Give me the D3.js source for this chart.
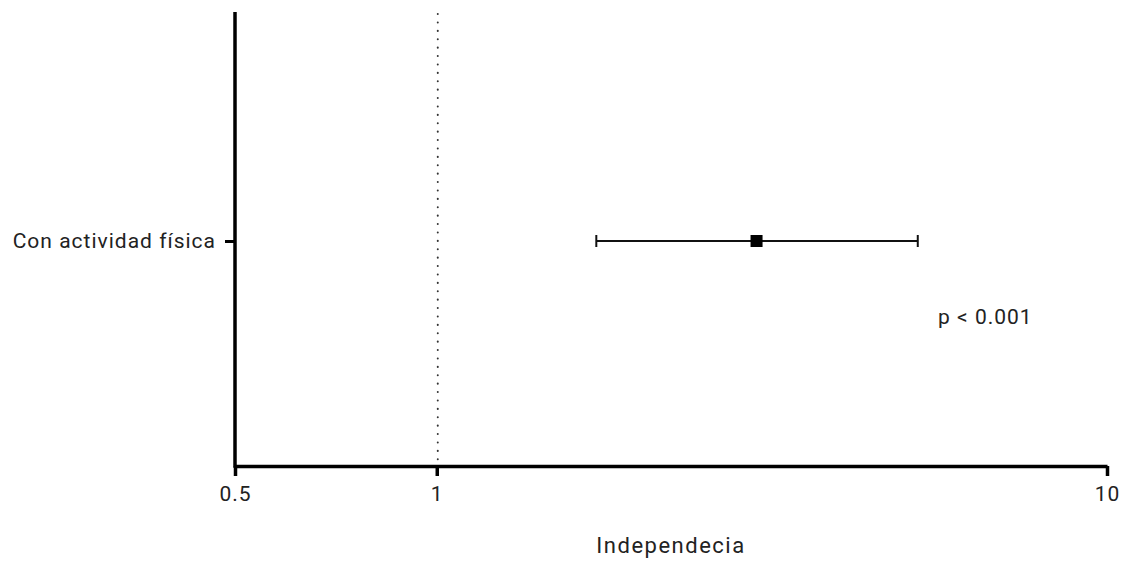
<!DOCTYPE html>
<html>
<head>
<meta charset="utf-8">
<script src="https://cdn.jsdelivr.net/npm/d3@7"></script>
<style>
  body { margin: 0; background: #fff; }
  text { font-family: Roboto, "Noto Sans", sans-serif; fill: #222; }
</style>
</head>
<body>
<div id="chart"></div>
<script>
// data
var categories = ["Con actividad física"];
var oddsRatio = [3.0];
var lowerCI = [1.73];
var upperCI = [5.22];
var xTicks = [0.5, 1, 10];
var pLabel = "p < 0.001";

var svgWidth = 1125;
var svgHeight = 564;
var margin = { top: 12, right: 18, bottom: 98, left: 235 };
var width = svgWidth - margin.left - margin.right;
var height = svgHeight - margin.top - margin.bottom;

var svg = d3.select("#chart")
  .append("svg")
  .attr("width", svgWidth)
  .attr("height", svgHeight);

var chartGroup = svg.append("g")
  .attr("transform", `translate(${margin.left}, ${margin.top})`);

var xScale = d3.scaleLog()
  .domain([0.5, 10])
  .range([0, 872]);

var yScale = d3.scalePoint()
  .domain(categories)
  .range([229, 229]);

// reference line at 1
chartGroup.append("line")
  .attr("x1", xScale(1) + 1)
  .attr("x2", xScale(1) + 1)
  .attr("y1", 2)
  .attr("y2", height)
  .attr("stroke", "#333")
  .attr("stroke-width", 2)
  .attr("stroke-linecap", "round")
  .attr("stroke-dasharray", "0.1 8.3");

// x axis
var bottomAxis = d3.axisBottom(xScale)
  .tickValues(xTicks)
  .tickFormat(d3.format("~g"))
  .tickSize(10)
  .tickSizeOuter(0);

var xAxis = chartGroup.append("g")
  .attr("transform", `translate(0, ${height})`)
  .call(bottomAxis);
xAxis.select(".domain").attr("stroke", "#000").attr("stroke-width", 3.5);
xAxis.selectAll(".tick line").attr("stroke", "#000").attr("stroke-width", 3.5);
xAxis.selectAll(".tick text")
  .attr("y", 20)
  .style("font-size", "21px")
  .style("letter-spacing", "1px")
  .style("font-family", "Roboto, sans-serif")
  .attr("fill", "#333");

// y axis
var leftAxis = d3.axisLeft(yScale)
  .tickSize(10)
  .tickSizeOuter(0);
var yAxis = chartGroup.append("g").call(leftAxis);
yAxis.select(".domain").remove();
chartGroup.append("line")
  .attr("x1", 0).attr("x2", 0)
  .attr("y1", 0).attr("y2", height + 1.75)
  .attr("stroke", "#000")
  .attr("stroke-width", 3.5);
yAxis.selectAll(".tick line").attr("stroke", "#000").attr("stroke-width", 3);
yAxis.selectAll(".tick text")
  .attr("x", -19)
  .style("font-size", "21px")
  .style("letter-spacing", "1px")
  .style("font-family", "Roboto, sans-serif")
  .attr("fill", "#222");

// error bars
var rows = categories.map(function(c, i) {
  return { cat: c, or: oddsRatio[i], lo: lowerCI[i], hi: upperCI[i] };
});

var bars = chartGroup.selectAll("g.row")
  .data(rows)
  .enter()
  .append("g")
  .attr("class", "row");

bars.append("line")
  .attr("x1", d => xScale(d.lo))
  .attr("x2", d => xScale(d.hi))
  .attr("y1", d => yScale(d.cat))
  .attr("y2", d => yScale(d.cat))
  .attr("stroke", "#111")
  .attr("stroke-width", 2);

bars.selectAll("line.cap")
  .data(d => [{ x: d.lo, y: d.cat }, { x: d.hi, y: d.cat }])
  .enter()
  .append("line")
  .attr("class", "cap")
  .attr("x1", d => xScale(d.x))
  .attr("x2", d => xScale(d.x))
  .attr("y1", d => yScale(d.y) - 6)
  .attr("y2", d => yScale(d.y) + 6)
  .attr("stroke", "#111")
  .attr("stroke-width", 2);

bars.append("rect")
  .attr("x", d => xScale(d.or) - 6)
  .attr("y", d => yScale(d.cat) - 6)
  .attr("width", 12)
  .attr("height", 12)
  .attr("fill", "#000");

// p value
chartGroup.append("text")
  .attr("x", 703)
  .attr("y", 312)
  .style("font-size", "21px")
  .style("letter-spacing", "1px")
  .attr("fill", "#333")
  .text(pLabel);

// x axis label
svg.append("text")
  .attr("x", 671)
  .attr("y", 553)
  .attr("text-anchor", "middle")
  .style("font-size", "22px")
  .style("letter-spacing", "1.5px")
  .attr("fill", "#222")
  .text("Independecia");
</script>
</body>
</html>
